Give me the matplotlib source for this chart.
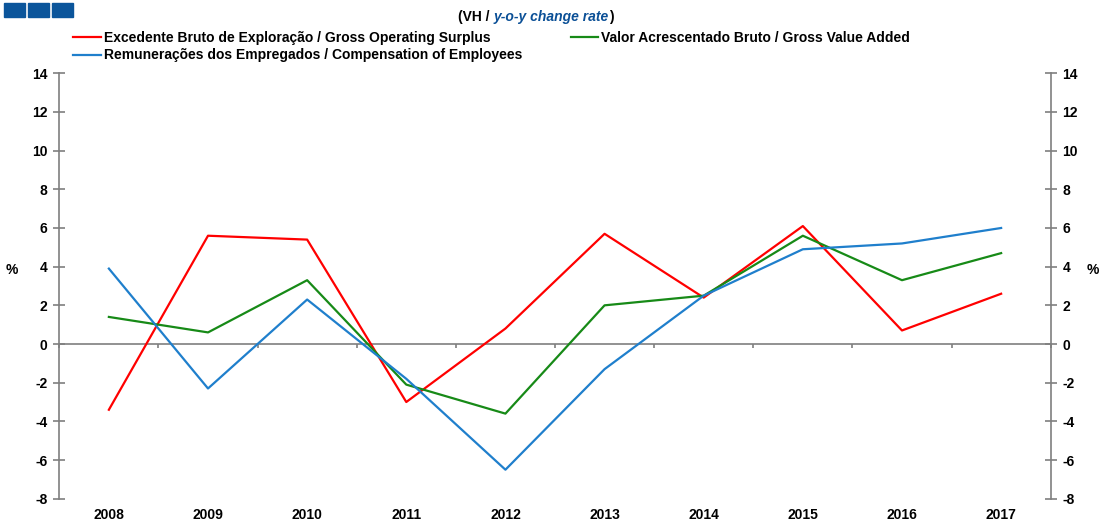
import numpy as np
import matplotlib
matplotlib.use("Agg")
import matplotlib.pyplot as plt
from matplotlib.patches import Rectangle
from matplotlib.transforms import offset_copy

years = ["2008", "2009", "2010", "2011", "2012", "2013", "2014", "2015", "2016", "2017"]
gos = [-3.4, 5.6, 5.4, -3.0, 0.8, 5.7, 2.4, 6.1, 0.7, 2.6]
gva = [1.4, 0.6, 3.3, -2.1, -3.6, 2.0, 2.5, 5.6, 3.3, 4.7]
coe = [3.9, -2.3, 2.3, -1.8, -6.5, -1.3, 2.5, 4.9, 5.2, 6.0]
yticks = list(range(-8, 15, 2))

lab_gos = "Excedente Bruto de Exploração / Gross Operating Surplus"
lab_gva = "Valor Acrescentado Bruto / Gross Value Added"
lab_coe = "Remunerações dos Empregados / Compensation of Employees"

plt.rcParams['font.family'] = ['Liberation Sans', 'DejaVu Sans']
plt.rcParams['font.weight'] = 'bold'

W, H = 1100, 522
fig = plt.figure(figsize=(11, 5.22), dpi=100)
ax = fig.add_axes([59.3 / W, 1 - 498.7 / H, (1050.7 - 59.3) / W, (498.7 - 73.3) / H])

x = np.arange(len(years))
l1, = ax.plot(x, gos, color='#ff0000', lw=1.6)
l3, = ax.plot(x, gva, color='#178a17', lw=1.6)
l2, = ax.plot(x, coe, color='#1f7fcc', lw=1.6)

ax.set_xlim(-0.5, len(years) - 0.5)
ax.set_ylim(-8, 14)
grey = '#7f7f7f'
for s in ['top', 'bottom']:
    ax.spines[s].set_visible(False)
for s in ['left', 'right']:
    ax.spines[s].set_color(grey)
    ax.spines[s].set_linewidth(1.2)

ax.set_yticks(yticks)
ax.set_yticklabels([str(v) for v in yticks])
ax.tick_params(axis='y', which='both', left=True, right=True, labelleft=True, labelright=True,
               direction='inout', length=9, width=1.2, color=grey, labelsize=10, pad=4)
ax.set_xticks(x)
ax.set_xticklabels(years)
ax.tick_params(axis='x', length=0, labelsize=10, pad=7)

ax.axhline(0, color=grey, lw=1.2, zorder=1)
sec = ax.secondary_xaxis(8 / 22)
sec.set_xticks(np.arange(len(years) + 1) - 0.5)
sec.set_xticklabels([])
sec.tick_params(axis='x', direction='out', length=3, width=1.2, color=grey)
sec.spines['bottom'].set_visible(False)

fig.text(12 / W, 1 - 270 / H, '%', fontsize=10, fontweight='bold', ha='center', va='center')
fig.text(1093 / W, 1 - 270 / H, '%', fontsize=10, fontweight='bold', ha='center', va='center')

fig.legend([l1, l2, l3], [lab_gos, lab_coe, lab_gva], ncol=2, loc='upper left',
           bbox_to_anchor=(73 / W, 1 - 31 / H), frameon=False, fontsize=10,
           handlelength=2.0, handletextpad=0.2, labelspacing=0.25, columnspacing=3.5,
           borderpad=0, borderaxespad=0)

# subtitle built from pieces, chained left to right
pieces = [('(VH / ', 'black', 'normal'), ('y-o-y change rate', '#0a4f96', 'italic'), (')', 'black', 'normal')]
fig.canvas.draw()
renderer = fig.canvas.get_renderer()
xpos = 458.0
for txt, col, sty in pieces:
    t = fig.text(xpos / W, 1 - 17 / H, txt, fontsize=10, fontweight='bold', style=sty,
                 color=col, ha='left', va='center')
    bb = t.get_window_extent(renderer=renderer)
    xpos += bb.width

for i in range(3):
    fig.patches.append(Rectangle(((4 + 24 * i) / W, 1 - 17 / H), 21 / W, 14 / H,
                                 transform=fig.transFigure, color='#0b559b', figure=fig))

fig.savefig('out.png', dpi=100)
